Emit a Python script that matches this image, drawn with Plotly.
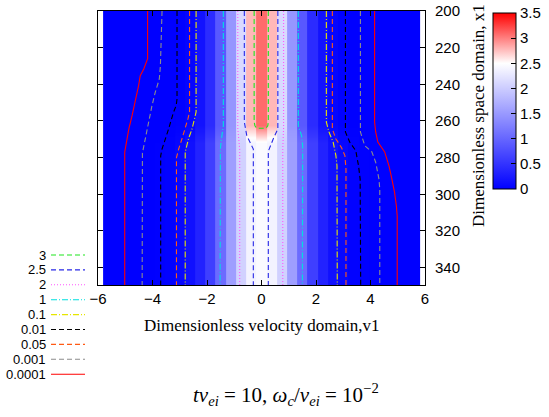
import plotly.graph_objects as go

# ---------------------------------------------------------------------------
# Distribution map f(v1, x1): velocity cells (centres) and two measured profiles
# ---------------------------------------------------------------------------
v_centres = [-5.625, -5.25, -4.875, -4.5, -4.125, -3.75, -3.375, -3.0, -2.625, -2.25,
             -1.875, -1.5, -1.125, -0.75, -0.375, 0.0, 0.375, 0.75, 1.125, 1.5,
             1.875, 2.25, 2.625, 3.0, 3.375, 3.75, 4.125, 4.5, 4.875, 5.25, 5.625]
cell_width = 0.375

# cold upper region (x1 < ~262)
f_upper = [0, 0, 0, 0, 0, 0, 0.002, 0.012, 0.05, 0.18, 0.42, 0.86, 1.47, 2.13, 2.78, 3.08,
           2.78, 2.13, 1.47, 0.86, 0.42, 0.18, 0.05, 0.012, 0.002, 0, 0, 0, 0, 0, 0]
# heated lower region (x1 > ~272)
f_lower = [0, 0, 0, 0, 0.001, 0.005, 0.022, 0.065, 0.16, 0.33, 0.62, 1.05, 1.55, 2.05, 2.38, 2.45,
           2.38, 2.05, 1.55, 1.05, 0.62, 0.33, 0.16, 0.065, 0.022, 0.005, 0.001, 0, 0, 0, 0]

x1_rows = [200, 262, 272, 349.5]
profile_rows = [f_upper, f_upper, f_lower, f_lower]

# ---------------------------------------------------------------------------
# Contour lines (v1 position of each iso-level along x1), left / right branches
# ---------------------------------------------------------------------------
levels = ["3", "2.5", "2", "1", "0.1", "0.01", "0.05", "0.001", "0.0001"]
level_colors = ["#1ee61e", "#2828e6", "#ff55ff", "#00e0e0", "#e6e600",
                "#000000", "#ff5a14", "#8c8c8c", "#ff0000"]
level_dashes = ["5px,3px", "5px,3px", "1px,2px", "6px,2px,1px,2px", "6px,2px,1px,2px",
                "5px,3px", "5px,3px", "5px,3px", "solid"]

# level 3: closed cap around the core at the top
c3_v = [-0.27, -0.27, -0.24, -0.18, 0.16, 0.23, 0.25, 0.25]
c3_x1 = [200, 260.6, 262.6, 264.0, 264.0, 262.6, 260.6, 200]

c25_left_v = [-0.63, -0.63, -0.54, -0.42, -0.30, -0.30]
c25_left_x1 = [200, 260.6, 268.0, 271.6, 275.3, 349.5]
c25_right_v = [0.60, 0.60, 0.43, 0.29, 0.25, 0.25]
c25_right_x1 = [200, 264.4, 269.8, 274.4, 276.5, 349.5]

c2_left_v = [-0.87, -0.87, -0.80, -0.80]
c2_left_x1 = [200, 264.4, 275.3, 349.5]
c2_right_v = [0.81, 0.81, 0.78, 0.78]
c2_right_x1 = [200, 264.4, 275.3, 349.5]

c1_left_v = [-1.40, -1.40, -1.47, -1.51, -1.52]
c1_left_x1 = [200, 262.7, 269.8, 275.3, 349.5]
c1_right_v = [1.35, 1.35, 1.47, 1.51, 1.50]
c1_right_x1 = [200, 262.7, 268.0, 273.5, 349.5]

c01_left_v = [-2.40, -2.40, -2.46, -2.55, -2.68, -2.76, -2.80, -2.80]
c01_left_x1 = [200, 255.1, 258.9, 264.4, 269.8, 274.2, 277.0, 349.5]
c01_right_v = [2.38, 2.38, 2.48, 2.63, 2.73, 2.77, 2.78]
c01_right_x1 = [200, 260.6, 266.2, 271.6, 278.9, 284.4, 349.5]

c001_left_v = [-3.10, -3.10, -3.13, -3.23, -3.41, -3.57, -3.65, -3.70, -3.70]
c001_left_x1 = [200, 248.0, 251.5, 255.3, 264.4, 271.6, 275.3, 279.0, 349.5]
c001_right_v = [3.08, 3.08, 3.24, 3.46, 3.56, 3.62, 3.64]
c001_right_x1 = [200, 266.0, 271.6, 276.2, 284.4, 291.7, 349.5]

c005_left_v = [-2.64, -2.64, -2.70, -2.80, -2.92, -3.04, -3.12, -3.12]
c005_left_x1 = [200, 255.1, 258.9, 264.4, 269.8, 275.3, 280.0, 349.5]
c005_right_v = [2.60, 2.60, 2.73, 2.93, 3.06, 3.10, 3.10]
c005_right_x1 = [200, 264.4, 269.8, 274.4, 278.9, 286.2, 349.5]

c0001_left_v = [-3.65, -3.68, -3.71, -3.75, -3.90, -4.02, -4.20, -4.32, -4.37, -4.38]
c0001_left_x1 = [200, 220.7, 229.8, 237.1, 244.4, 251.7, 264.4, 274.4, 277.5, 349.5]
c0001_right_v = [3.63, 3.63, 3.79, 4.05, 4.19, 4.31, 4.34, 4.34]
c0001_right_x1 = [200, 266.0, 273.5, 276.9, 282.5, 291.7, 297.1, 349.5]

c00001_left_v = [-4.18, -4.18, -4.32, -4.45, -4.51, -4.63, -4.75, -4.87, -4.99, -5.02, -5.02]
c00001_left_x1 = [200, 226.0, 231.6, 235.3, 240.7, 249.8, 257.1, 264.4, 273.5, 277.0, 349.5]
c00001_right_v = [4.15, 4.15, 4.19, 4.27, 4.52, 4.68, 4.76, 4.88, 4.95, 4.98, 4.98]
c00001_right_x1 = [200, 260.6, 266.0, 271.5, 276.9, 284.6, 290.0, 298.7, 306.4, 311.8, 349.5]

branches = [
    (c3_v, c3_x1, [], []),
    (c25_left_v, c25_left_x1, c25_right_v, c25_right_x1),
    (c2_left_v, c2_left_x1, c2_right_v, c2_right_x1),
    (c1_left_v, c1_left_x1, c1_right_v, c1_right_x1),
    (c01_left_v, c01_left_x1, c01_right_v, c01_right_x1),
    (c001_left_v, c001_left_x1, c001_right_v, c001_right_x1),
    (c005_left_v, c005_left_x1, c005_right_v, c005_right_x1),
    (c0001_left_v, c0001_left_x1, c0001_right_v, c0001_right_x1),
    (c00001_left_v, c00001_left_x1, c00001_right_v, c00001_right_x1),
]

# ---------------------------------------------------------------------------
# Figure geometry
# ---------------------------------------------------------------------------
W, H = 549, 417
ML, MR, MT, MB = 98, 124, 11, 132
PW, PH = W - ML - MR, H - MT - MB


def px_x(p):
    return (p - ML) / PW


def px_y(p):
    return (H - MB - p) / PH


SANS = "Liberation Sans, Arial, sans-serif"
SERIF = "Liberation Serif, Times New Roman, serif"

fig = go.Figure()

# Blocky cells along v1, smooth blend along x1: sample each cell at both of its
# edges so the bilinear smoothing only acts between the x1 rows.
half = cell_width / 2
eps = 0.001
xs = [v_centres[0] - half]
col_idx = [0]
for i, c in enumerate(v_centres):
    xs += [c - half + eps, c + half - eps]
    col_idx += [i, i]
xs.append(v_centres[-1] + half)
col_idx.append(len(v_centres) - 1)
z = [[row[i] for i in col_idx] for row in profile_rows]

fig.add_trace(go.Heatmap(
    x=xs, y=x1_rows, z=z, zsmooth="best", zmin=0, zmax=3.5,
    colorscale=[[0, "rgb(0,0,255)"], [2.5 / 3.5, "rgb(255,255,255)"], [1, "rgb(255,0,0)"]],
    hoverinfo="skip",
    colorbar=dict(
        x=px_x(493), xanchor="left", y=px_y(101), yanchor="middle",
        lenmode="pixels", len=176, thickness=23, xpad=0, ypad=0,
        outlinewidth=1, outlinecolor="black",
        tickvals=[0, 0.5, 1, 1.5, 2, 2.5, 3, 3.5],
        ticks="inside", ticklen=5, tickcolor="black", tickprefix=" ",
        tickfont=dict(family=SANS, size=15, color="black"),
    ),
))

for (lv, lx, rv, rx), col, dash in zip(branches, level_colors, level_dashes):
    xs_line = list(lv) + ([None] + list(rv) if rv else [])
    ys_line = list(lx) + ([None] + list(rx) if rx else [])
    fig.add_trace(go.Scatter(
        x=xs_line, y=ys_line, mode="lines", showlegend=False, hoverinfo="skip",
        line=dict(color=col, width=1.1, dash=dash),
    ))

# Legend: level labels to the left of their line samples
annotations = []
shapes = []
leg_top, leg_step = 255, 14.9
for i, (lab, col, dash) in enumerate(zip(levels, level_colors, level_dashes)):
    py = leg_top + i * leg_step
    annotations.append(dict(
        xref="paper", yref="paper", x=px_x(48), y=px_y(py), xanchor="right", yanchor="middle",
        text=lab, showarrow=False, font=dict(family=SANS, size=13, color="black"),
    ))
    shapes.append(dict(
        type="line", xref="paper", yref="paper",
        x0=px_x(51), x1=px_x(85), y0=px_y(py), y1=px_y(py),
        line=dict(color=col, width=1.1, dash=dash),
    ))

annotations.append(dict(
    xref="paper", yref="paper", x=px_x(262), y=px_y(325), xanchor="center", yanchor="middle",
    text="Dimensionless velocity domain,v1", showarrow=False,
    font=dict(family=SERIF, size=17, color="black"),
))
annotations.append(dict(
    xref="paper", yref="paper", x=px_x(478), y=px_y(116), xanchor="center", yanchor="middle",
    text="Dimensionless space domain, x1", textangle=-90, showarrow=False,
    font=dict(family=SERIF, size=17, color="black"),
))
annotations.append(dict(
    xref="paper", yref="paper", x=px_x(286), y=px_y(394), xanchor="center", yanchor="middle",
    text="<i>tν</i><sub><i>ei</i></sub> = 10, <i>ω</i><sub><i>c</i></sub>/<i>ν</i><sub><i>ei</i></sub>"
         " = 10<sup>−2</sup>",
    showarrow=False, font=dict(family=SERIF, size=21, color="black"),
))

axis_common = dict(
    showline=True, linecolor="black", linewidth=1, mirror="ticks",
    ticks="inside", ticklen=5, tickcolor="black",
    showgrid=False, zeroline=False,
    tickfont=dict(family=SANS, size=15, color="black"),
)

fig.update_layout(
    width=W, height=H,
    margin=dict(l=ML, r=MR, t=MT, b=MB, pad=0, autoexpand=False),
    paper_bgcolor="white", plot_bgcolor="white",
    showlegend=False,
    xaxis=dict(range=[-6, 6], tickvals=[-6, -4, -2, 0, 2, 4, 6], **axis_common),
    yaxis=dict(range=[349.5, 200], side="right", tickvals=[200, 220, 240, 260, 280, 300, 320, 340],
               ticklabelstandoff=6, **axis_common),
    annotations=annotations,
    shapes=shapes,
)

fig.write_html("out.html")
